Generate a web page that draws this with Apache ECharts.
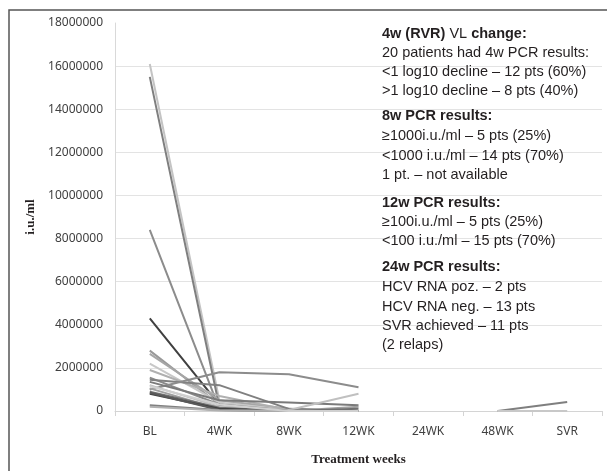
<!DOCTYPE html>
<html>
<head>
<meta charset="utf-8">
<script src="https://cdn.jsdelivr.net/npm/echarts@6/dist/echarts.min.js"></script>
<style>
html,body{margin:0;padding:0;background:#fff;}
#chart{width:607px;height:471px;}
</style>
</head>
<body>
<div id="chart"></div>
<script>
var categories = ['BL', '4WK', '8WK', '12WK', '24WK', '48WK', 'SVR'];
var yTicks = [0, 2000000, 4000000, 6000000, 8000000, 10000000, 12000000, 14000000, 16000000, 18000000];

var p01 = [16100000, 500000, 20000, 0, null, null, null];
var p02 = [15500000, 200000, 10000, 0, null, null, null];
var p03 = [8400000, 100000, 0, 0, null, null, null];
var p04 = [4300000, 300000, 50000, 0, null, null, null];
var p05 = [2800000, 300000, 0, 0, null, null, null];
var p06 = [2650000, 500000, 100000, 0, null, null, null];
var p07 = [2200000, 400000, 50000, 0, null, null, null];
var p08 = [1900000, 700000, 50000, 0, null, null, null];
var p09 = [1550000, 300000, 20000, 0, null, null, null];
var p10 = [1450000, 1200000, 100000, 0, null, null, null];
var p11 = [1000000, 1800000, 1700000, 1100000, null, null, null];
var p12 = [1350000, 500000, 400000, 270000, null, null, null];
var p13 = [1200000, 200000, 50000, 800000, null, null, null];
var p14 = [1050000, 100000, 0, 200000, null, null, null];
var p15 = [900000, 150000, 0, 100000, null, null, null];
var p16 = [800000, 100000, 0, 0, null, null, null];
var p17 = [850000, 50000, 0, 0, null, null, null];
var p18 = [270000, 50000, 0, 0, null, null, null];
var p19 = [200000, 20000, 0, 0, null, null, null];
var p20 = [1150000, 300000, 0, 0, null, null, null];
var p21 = [null, null, null, null, null, 0, 420000];
var p22 = [null, null, null, null, null, 0, 0];

var patients = [p01,p02,p03,p04,p05,p06,p07,p08,p09,p10,p11,p12,p13,p14,p15,p16,p17,p18,p19,p20,p21,p22];
var colors = ['#c4c4c4','#7f7f7f','#8c8c8c','#404040','#999999','#a6a6a6','#c8c8c8','#b0b0b0','#8a8a8a','#808080',
              '#8c8c8c','#7a7a7a','#c0c0c0','#a0a0a0','#707070','#404040','#595959','#808080','#b0b0b0','#d0d0d0',
              '#7f7f7f','#c8c8c8'];

var textLines = [
  {y: 35, t: '{b|4w (RVR)} VL {b|change:}'},
  {y: 54, t: '20 patients had 4w PCR results:'},
  {y: 73, t: '<1 log10 decline – 12 pts (60%)'},
  {y: 92, t: '>1 log10 decline – 8 pts (40%)'},
  {y: 117, t: '{b|8w PCR results:}'},
  {y: 137, t: '≥1000i.u./ml – 5 pts (25%)'},
  {y: 157, t: '<1000 i.u./ml – 14 pts (70%)'},
  {y: 176, t: '1 pt. – not available'},
  {y: 204, t: '{b|12w PCR results:}'},
  {y: 223, t: '≥100i.u./ml – 5 pts (25%)'},
  {y: 242, t: '<100 i.u./ml – 15 pts (70%)'},
  {y: 268, t: '{b|24w PCR results:}'},
  {y: 288, t: 'HCV RNA poz. – 2 pts'},
  {y: 308, t: 'HCV RNA neg. – 13 pts'},
  {y: 327, t: 'SVR achieved – 11 pts'},
  {y: 346, t: '(2 relaps)'}
];

var chart = echarts.init(document.getElementById('chart'));
var splitColors = yTicks.map(function(v, i){ return i === yTicks.length - 1 ? 'rgba(0,0,0,0)' : '#e3e3e3'; });

var FONT = '"Liberation Sans", Arial, sans-serif';
var FS = 14.5;
var graphics = [
  {type: 'rect', shape: {x: 9, y: 10, width: 640, height: 500}, style: {fill: 'none', stroke: '#555555', lineWidth: 1.5}, z: 100}
];
textLines.forEach(function(l){
  graphics.push({
    type: 'text', left: 382, top: l.y - 9, z: 50,
    style: {
      text: l.t,
      fill: '#231f20',
      fontFamily: FONT,
      fontSize: FS,
      rich: { b: { fontWeight: 'bold', fill: '#231f20', fontFamily: FONT, fontSize: FS } }
    }
  });
});

chart.setOption({
  backgroundColor: '#ffffff',
  animation: false,
  grid: {left: 115, right: 5, top: 23, bottom: 55, containLabel: false},
  xAxis: {
    type: 'category',
    data: categories,
    boundaryGap: true,
    name: 'Treatment weeks',
    nameLocation: 'middle',
    nameGap: 42,
    nameTextStyle: {fontFamily: '"Liberation Serif", "DejaVu Serif", serif', fontWeight: 'bold', fontSize: 13, color: '#231f20'},
    axisLine: {lineStyle: {color: '#d4d4d4', width: 1}},
    axisTick: {show: true, length: 5, lineStyle: {color: '#d4d4d4'}},
    axisLabel: {fontFamily: '"Noto Sans", sans-serif', fontSize: 12, color: '#404040', margin: 15},
    splitLine: {show: false}
  },
  yAxis: {
    type: 'value',
    min: 0, max: 18000000, interval: 2000000,
    name: 'i.u./ml',
    nameLocation: 'middle',
    nameGap: 78,
    nameRotate: 90,
    nameTextStyle: {fontFamily: '"Liberation Serif", "DejaVu Serif", serif', fontWeight: 'bold', fontSize: 13, color: '#231f20'},
    axisLine: {show: true, lineStyle: {color: '#d9d9d9', width: 1}},
    axisTick: {show: false},
    axisLabel: {fontFamily: '"Noto Sans", sans-serif', fontSize: 12, color: '#404040', margin: 12,
      formatter: function(v){ return String(v); }},
    splitLine: {show: true, lineStyle: {color: splitColors, width: 1}}
  },
  series: patients.map(function(d, i){
    return {
      type: 'line', data: d, symbol: 'none', connectNulls: false,
      lineStyle: {color: colors[i], width: 2},
      itemStyle: {color: colors[i]}
    };
  }),
  graphic: graphics
});
</script>
</body>
</html>
